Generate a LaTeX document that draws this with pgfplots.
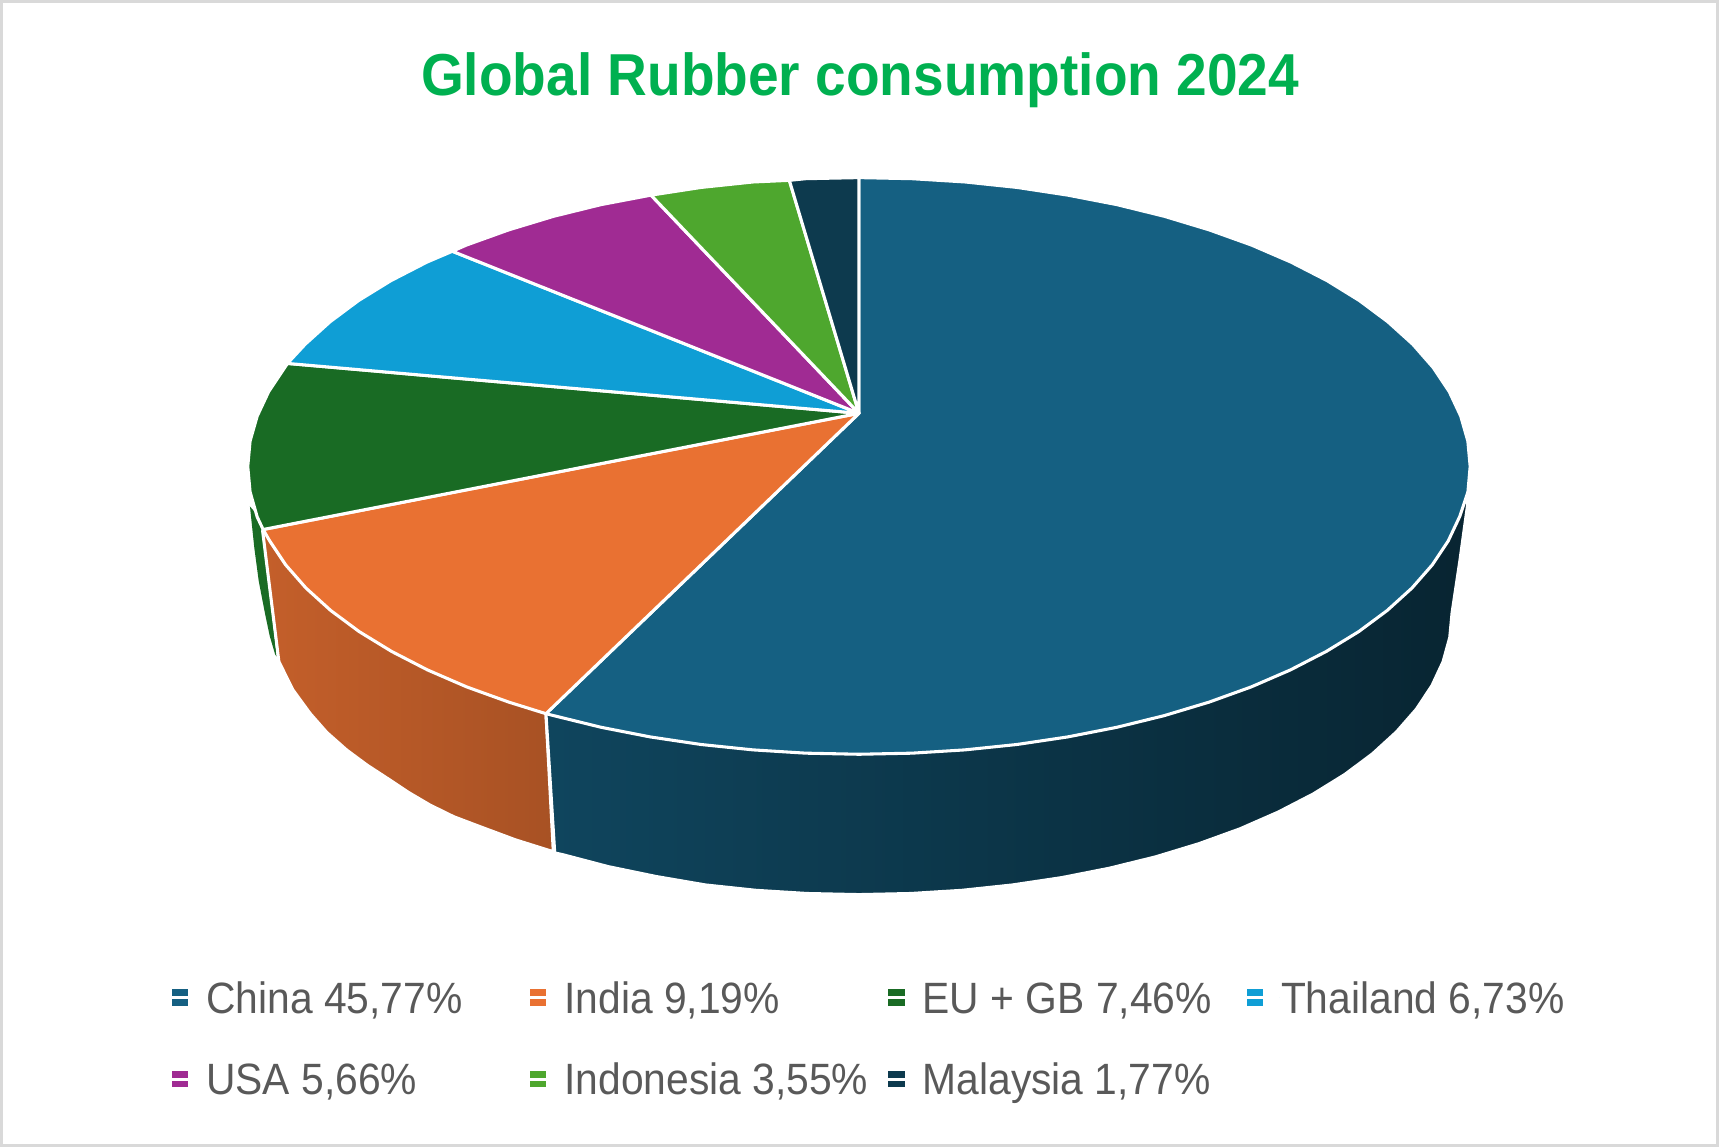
\documentclass[border=0pt]{standalone}
\usepackage{fontspec}
\setmainfont[FakeStretch=0.93]{Liberation Sans}
\usepackage{pgfplots}
\pgfplotsset{compat=1.18}

\definecolor{cChina}{HTML}{156082}
\definecolor{cIndia}{HTML}{E97132}
\definecolor{cEU}{HTML}{196B24}
\definecolor{cThai}{HTML}{0F9ED5}
\definecolor{cUSA}{HTML}{A02B93}
\definecolor{cIndo}{HTML}{4EA72E}
\definecolor{cMalay}{HTML}{0D3A4E}
\definecolor{cTitle}{HTML}{00B050}
\definecolor{cText}{HTML}{595959}
\definecolor{cBorder}{HTML}{D9D9D9}

\newcommand{\entry}[1]{\makebox[279pt][l]{\fontsize{40}{43}\selectfont\strut #1}}

\begin{document}
\begin{tikzpicture}
\begin{axis}[
    scale only axis,
    width=1568pt, height=1046pt,
    xmin=0, xmax=1568, ymin=0, ymax=1046,
    y dir=reverse,
    hide axis,
    clip=false,
    legend columns=4,
    legend cell align=left,
    legend image code/.code={
        \fill[#1,draw=none] (0pt,-7.5pt) rectangle (15pt,7.5pt);
        \path (0pt,0pt) -- (30pt,0pt);
    },
    legend style={
        at={(0.0989,0.1455)}, anchor=north west,
        draw=none, fill=none, text=cText,
        row sep=43pt,
        inner sep=0pt,
        nodes={inner sep=0pt},
        /tikz/every even column/.append style={column sep=15pt},
    },
    every axis plot/.append style={line join=round, no markers},
]

% frame
\addplot[forget plot, draw=cBorder, line width=2.7pt, line join=miter] coordinates {
    (1.35,1.35) (1566.65,1.35) (1566.65,1044.65) (1.35,1044.65)
} -- cycle;

% side walls
\addplot[forget plot, fill=cEU, draw=none] coordinates {
    (228,462) (232,500) (236,530) (241.7,559.5) (246,580) (251,597) (252.4,599) (239.5,484) (235,470)
} -- cycle;
\addplot[forget plot, left color=cIndia!84!black, right color=cIndia!72!black, draw=white, line width=2.8pt] coordinates {
    (239.5,484) (254.4,603.5) (267,629) (282.8,650.7) (298,668) (316.2,684.1) (335,698) (355.7,711.5) (373,723)
    (392.2,734.3) (414,745) (437.8,754) (470,766) (504.7,776.9)
    (498,651) (400,560)
} -- cycle;
\addplot[forget plot, left color=cChina!72!black, middle color=cChina!45!black, right color=cChina!38!black, draw=white, line width=2.8pt] coordinates {
    (498,651) (506,778) (513,779.5) (554.9,790.5) (598.5,799.5) (643.5,807.2) (689.6,812.1) (736.3,815) (783.5,816)
    (830.7,815) (877.4,812.1) (923.5,807.2) (968.5,800.5) (1012.1,791.9) (1054,781.6) (1093.8,769.5) (1131.3,755.9)
    (1166,740.7) (1197.9,724.2) (1226.7,706.4) (1252,687.5) (1273.8,667.6) (1291.9,646.9) (1306.1,625.5) (1316.3,603.6)
    (1322.4,581.4) (1324.5,559) (1331.7,511) (1339,458) (783,450)
} -- cycle;

% top of the pie, one slice per series
\addplot[fill=cChina, draw=white, line width=2.8pt] coordinates {
    (783.5,377) (783.5,162) (832,163) (880.5,166) (928,171) (974,178) (1019,186.7) (1062,197.3)
    (1103,209.7) (1141.7,223.6) (1177.6,239.1) (1210.5,256) (1240,274.2) (1266,293.6) (1288.6,314)
    (1307.2,335.2) (1321.9,357.2) (1332.4,379.6) (1338.9,402.4) (1341,425.5) (1339,448.5) (1331.5,471.1)
    (1321,493.4) (1306.4,515.3) (1287.9,536.4) (1265.4,556.8) (1239.4,576.1) (1209.8,594.2) (1177,611.1)
    (1141.2,626.6) (1102.7,640.5) (1061.8,652.8) (1018.7,663.4) (973.8,672.2) (927.5,679.1) (880.1,684)
    (832,687) (783.5,688) (735,687) (686.9,684) (639.5,679.1) (593.2,672.2) (548.3,663.4) (505.2,652.8) (498,651)
} -- cycle;
\addlegendentry{\entry{China 45,77\%}}

\addplot[fill=cIndia, draw=white, line width=2.8pt] coordinates {
    (783.5,377) (498,651) (464.3,640.5) (425.8,626.6) (390,611.1) (357.2,594.2) (327.6,576.1) (301.6,556.8)
    (279.1,536.4) (260.6,515.3) (246,493.4) (240,483)
} -- cycle;
\addlegendentry{\entry{India 9,19\%}}

\addplot[fill=cEU, draw=white, line width=2.8pt] coordinates {
    (783.5,377) (240,483) (234.6,471.5) (228.1,448.6) (226,425.5) (228.1,402.4) (234.6,379.6) (245.1,357.2) (262.2,331.5)
} -- cycle;
\addlegendentry{\entry{EU + GB 7,46\%}}

\addplot[fill=cThai, draw=white, line width=2.8pt] coordinates {
    (783.5,377) (262.2,331.5) (278.4,314) (301,293.6) (327,274.2) (356.6,256) (389.4,239.1) (412.6,229.2)
} -- cycle;
\addlegendentry{\entry{Thailand 6,73\%}}

\addplot[fill=cUSA, draw=white, line width=2.8pt] coordinates {
    (783.5,377) (412.6,229.2) (425.3,223.6) (464,209.7) (505,197.3) (548,186.7) (593.8,178)
} -- cycle;
\addlegendentry{\entry{USA 5,66\%}}

\addplot[fill=cIndo, draw=white, line width=2.8pt] coordinates {
    (783.5,377) (593.8,178) (639.3,171) (686.8,166) (720,164.5)
} -- cycle;
\addlegendentry{\entry{Indonesia 3,55\%}}

\addplot[fill=cMalay, draw=white, line width=2.8pt] coordinates {
    (783.5,377) (720,164.5) (735,163) (783.5,162)
} -- cycle;
\addlegendentry{\entry{Malaysia 1,77\%}}

\node[text=cTitle, font=\fontsize{54}{58}\selectfont\bfseries, anchor=center] at (axis cs:784.5,73) {Global Rubber consumption 2024};

\end{axis}
\end{tikzpicture}
\end{document}
